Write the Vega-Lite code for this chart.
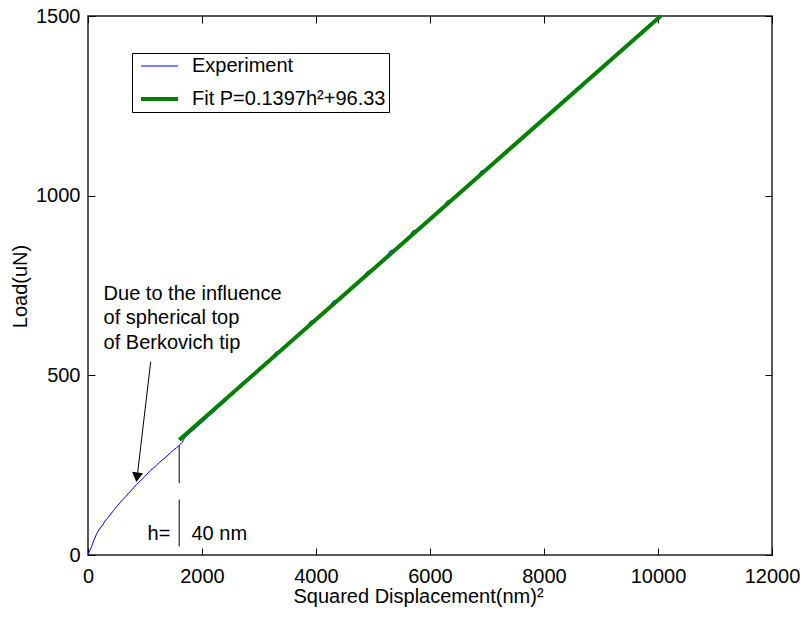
{
  "$schema": "https://vega.github.io/schema/vega-lite/v6.json",
  "width": 684,
  "height": 539,
  "autosize": {"type": "none"},
  "padding": {"left": 88, "top": 16, "right": 30, "bottom": 62},
  "background": "white",
  "config": {
    "font": "Liberation Sans",
    "view": {"stroke": "#222222", "strokeWidth": 1.5},
    "axis": {"grid": false, "domain": false, "tickColor": "#000000", "tickSize": -7, "tickWidth": 1, "labelFlush": false, "format": "d", "labelFontSize": 20, "labelColor": "#000000", "labelFont": "Liberation Sans", "titleFont": "Liberation Sans", "titleFontSize": 20, "titleFontWeight": "normal", "titleColor": "#000000"}
  },
  "datasets": {
    "curves": [
      {"series": "Experiment", "x": 0, "y": 0},
      {"series": "Experiment", "x": 30, "y": 12},
      {"series": "Experiment", "x": 60, "y": 22},
      {"series": "Experiment", "x": 100, "y": 40},
      {"series": "Experiment", "x": 150, "y": 58},
      {"series": "Experiment", "x": 200, "y": 72},
      {"series": "Experiment", "x": 260, "y": 84},
      {"series": "Experiment", "x": 300, "y": 95},
      {"series": "Experiment", "x": 350, "y": 104},
      {"series": "Experiment", "x": 400, "y": 114},
      {"series": "Experiment", "x": 450, "y": 124},
      {"series": "Experiment", "x": 500, "y": 134},
      {"series": "Experiment", "x": 560, "y": 145},
      {"series": "Experiment", "x": 600, "y": 153},
      {"series": "Experiment", "x": 650, "y": 160},
      {"series": "Experiment", "x": 700, "y": 170},
      {"series": "Experiment", "x": 750, "y": 178},
      {"series": "Experiment", "x": 800, "y": 187},
      {"series": "Experiment", "x": 850, "y": 196},
      {"series": "Experiment", "x": 900, "y": 204},
      {"series": "Experiment", "x": 950, "y": 211},
      {"series": "Experiment", "x": 1000, "y": 219},
      {"series": "Experiment", "x": 1050, "y": 228},
      {"series": "Experiment", "x": 1100, "y": 236},
      {"series": "Experiment", "x": 1150, "y": 242},
      {"series": "Experiment", "x": 1200, "y": 250},
      {"series": "Experiment", "x": 1250, "y": 257},
      {"series": "Experiment", "x": 1300, "y": 264},
      {"series": "Experiment", "x": 1350, "y": 270},
      {"series": "Experiment", "x": 1400, "y": 278},
      {"series": "Experiment", "x": 1450, "y": 285},
      {"series": "Experiment", "x": 1500, "y": 292},
      {"series": "Experiment", "x": 1550, "y": 298},
      {"series": "Experiment", "x": 1600, "y": 305},
      {"series": "Experiment", "x": 1650, "y": 313},
      {"series": "Experiment", "x": 1700, "y": 327},
      {"series": "Experiment", "x": 1800, "y": 341},
      {"series": "Experiment", "x": 1900, "y": 355},
      {"series": "Experiment", "x": 2000, "y": 369},
      {"series": "Experiment", "x": 2100, "y": 384},
      {"series": "Experiment", "x": 2200, "y": 397},
      {"series": "Experiment", "x": 2300, "y": 412},
      {"series": "Experiment", "x": 2400, "y": 426},
      {"series": "Experiment", "x": 2500, "y": 441},
      {"series": "Experiment", "x": 2600, "y": 455},
      {"series": "Experiment", "x": 2700, "y": 471},
      {"series": "Experiment", "x": 2800, "y": 484},
      {"series": "Experiment", "x": 2900, "y": 499},
      {"series": "Experiment", "x": 3000, "y": 513},
      {"series": "Experiment", "x": 3100, "y": 528},
      {"series": "Experiment", "x": 3200, "y": 541},
      {"series": "Experiment", "x": 3300, "y": 565},
      {"series": "Experiment", "x": 3400, "y": 570},
      {"series": "Experiment", "x": 3500, "y": 586},
      {"series": "Experiment", "x": 3600, "y": 598},
      {"series": "Experiment", "x": 3700, "y": 615},
      {"series": "Experiment", "x": 3800, "y": 626},
      {"series": "Experiment", "x": 3900, "y": 650},
      {"series": "Experiment", "x": 4000, "y": 657},
      {"series": "Experiment", "x": 4100, "y": 672},
      {"series": "Experiment", "x": 4200, "y": 682},
      {"series": "Experiment", "x": 4300, "y": 706},
      {"series": "Experiment", "x": 4400, "y": 712},
      {"series": "Experiment", "x": 4500, "y": 727},
      {"series": "Experiment", "x": 4600, "y": 738},
      {"series": "Experiment", "x": 4700, "y": 756},
      {"series": "Experiment", "x": 4800, "y": 767},
      {"series": "Experiment", "x": 4900, "y": 789},
      {"series": "Experiment", "x": 5000, "y": 795},
      {"series": "Experiment", "x": 5100, "y": 811},
      {"series": "Experiment", "x": 5200, "y": 822},
      {"series": "Experiment", "x": 5300, "y": 846},
      {"series": "Experiment", "x": 5400, "y": 851},
      {"series": "Experiment", "x": 5500, "y": 867},
      {"series": "Experiment", "x": 5600, "y": 878},
      {"series": "Experiment", "x": 5700, "y": 902},
      {"series": "Experiment", "x": 5800, "y": 906},
      {"series": "Experiment", "x": 5900, "y": 922},
      {"series": "Experiment", "x": 6000, "y": 934},
      {"series": "Experiment", "x": 6100, "y": 950},
      {"series": "Experiment", "x": 6200, "y": 962},
      {"series": "Experiment", "x": 6300, "y": 985},
      {"series": "Experiment", "x": 6400, "y": 990},
      {"series": "Experiment", "x": 6500, "y": 1006},
      {"series": "Experiment", "x": 6600, "y": 1018},
      {"series": "Experiment", "x": 6700, "y": 1034},
      {"series": "Experiment", "x": 6800, "y": 1046},
      {"series": "Experiment", "x": 6900, "y": 1069},
      {"series": "Experiment", "x": 7000, "y": 1073},
      {"series": "Experiment", "x": 7100, "y": 1090},
      {"series": "Experiment", "x": 7200, "y": 1101},
      {"series": "Experiment", "x": 7300, "y": 1118},
      {"series": "Experiment", "x": 7400, "y": 1129},
      {"series": "Experiment", "x": 7500, "y": 1146},
      {"series": "Experiment", "x": 7600, "y": 1157},
      {"series": "Experiment", "x": 7700, "y": 1173},
      {"series": "Experiment", "x": 7800, "y": 1185},
      {"series": "Experiment", "x": 7900, "y": 1201},
      {"series": "Experiment", "x": 8000, "y": 1213},
      {"series": "Experiment", "x": 8100, "y": 1229},
      {"series": "Experiment", "x": 8200, "y": 1241},
      {"series": "Experiment", "x": 8300, "y": 1256},
      {"series": "Experiment", "x": 8400, "y": 1269},
      {"series": "Experiment", "x": 8500, "y": 1285},
      {"series": "Experiment", "x": 8600, "y": 1296},
      {"series": "Experiment", "x": 8700, "y": 1313},
      {"series": "Experiment", "x": 8800, "y": 1324},
      {"series": "Experiment", "x": 8900, "y": 1340},
      {"series": "Experiment", "x": 9000, "y": 1352},
      {"series": "Experiment", "x": 9100, "y": 1369},
      {"series": "Experiment", "x": 9200, "y": 1379},
      {"series": "Experiment", "x": 9300, "y": 1396},
      {"series": "Experiment", "x": 9400, "y": 1407},
      {"series": "Experiment", "x": 9500, "y": 1424},
      {"series": "Experiment", "x": 9600, "y": 1435},
      {"series": "Experiment", "x": 9700, "y": 1452},
      {"series": "Experiment", "x": 9800, "y": 1462},
      {"series": "Experiment", "x": 9900, "y": 1478},
      {"series": "Experiment", "x": 9960, "y": 1482},
      {"series": "Fit P=0.1397h²+96.33", "x": 1600, "y": 319.9},
      {"series": "Fit P=0.1397h²+96.33", "x": 4000, "y": 655.1},
      {"series": "Fit P=0.1397h²+96.33", "x": 7000, "y": 1074.2},
      {"series": "Fit P=0.1397h²+96.33", "x": 10048, "y": 1500}
    ],
    "marker": [
      {"x": 1600, "y": 200, "y2": 305},
      {"x": 1600, "y": 24, "y2": 154}
    ],
    "arrow": [
      {"x": 1100, "y": 538, "x2": 871, "y2": 229}
    ],
    "head": [
      {"x": 859, "y": 216.5}
    ],
    "notesLeft": [
      {"x": 274, "y": 710, "label": "Due to the influence\nof spherical top\nof Berkovich tip"},
      {"x": 1815, "y": 43, "label": "40 nm"}
    ],
    "notesRight": [
      {"x": 1446, "y": 43, "label": "h="}
    ],
    "frame": [
      {"x": 0, "y": 0}
    ]
  },
  "resolve": {"axis": {"x": "independent", "y": "independent"}},
  "layer": [
    {
      "data": {"name": "curves"},
      "mark": {"type": "line", "interpolate": "linear"},
      "encoding": {
        "x": {"field": "x", "type": "quantitative", "scale": {"domain": [0, 12000], "nice": false},
              "axis": {"orient": "bottom", "values": [0, 2000, 4000, 6000, 8000, 10000, 12000], "labelPadding": 18, "title": "Squared Displacement(nm)²", "titleX": 330, "titleY": 47, "titleBaseline": "alphabetic", "titleAlign": "center"}},
        "y": {"field": "y", "type": "quantitative", "scale": {"domain": [0, 1500], "nice": false},
              "axis": {"orient": "left", "values": [0, 500, 1000, 1500], "labelPadding": 15, "title": "Load(uN)", "titleX": -62, "titleY": 270, "titleAngle": -90, "titleBaseline": "alphabetic", "titleAlign": "center"}},
        "color": {"field": "series", "type": "nominal",
                  "scale": {"domain": ["Experiment", "Fit P=0.1397h²+96.33"], "range": ["#0000ff", "#008000"]},
                  "legend": {"orient": "none", "legendX": 44, "legendY": 37, "title": null, "strokeColor": "#000000", "fillColor": "#ffffff", "padding": 3, "symbolOffset": 4, "symbolType": "stroke", "symbolSize": 1369, "clipHeight": 20, "labelOffset": 12, "rowPadding": 13, "labelFontSize": 20, "labelColor": "#000000", "labelFont": "Liberation Sans", "labelLimit": 400}},
        "strokeWidth": {"field": "series", "type": "nominal",
                  "scale": {"domain": ["Experiment", "Fit P=0.1397h²+96.33"], "range": [1, 4]},
                  "legend": {"orient": "none", "legendX": 44, "legendY": 37, "title": null, "strokeColor": "#000000", "fillColor": "#ffffff", "padding": 3, "symbolOffset": 4, "symbolType": "stroke", "symbolSize": 1369, "clipHeight": 20, "labelOffset": 12, "rowPadding": 13, "labelFontSize": 20, "labelColor": "#000000", "labelFont": "Liberation Sans", "labelLimit": 400}}
      }
    },
    {
      "data": {"name": "marker"},
      "mark": {"type": "rule", "color": "#000000", "strokeWidth": 1},
      "encoding": {
        "x": {"field": "x", "type": "quantitative", "axis": null},
        "y": {"field": "y", "type": "quantitative", "axis": null},
        "y2": {"field": "y2"}
      }
    },
    {
      "data": {"name": "arrow"},
      "mark": {"type": "rule", "color": "#000000", "strokeWidth": 1},
      "encoding": {
        "x": {"field": "x", "type": "quantitative", "axis": null},
        "y": {"field": "y", "type": "quantitative", "axis": null},
        "x2": {"field": "x2"},
        "y2": {"field": "y2"}
      }
    },
    {
      "data": {"name": "head"},
      "mark": {"type": "point", "shape": "triangle-down", "filled": true, "color": "#000000", "opacity": 1, "size": 120, "angle": 7},
      "encoding": {
        "x": {"field": "x", "type": "quantitative", "axis": null},
        "y": {"field": "y", "type": "quantitative", "axis": null}
      }
    },
    {
      "data": {"name": "notesLeft"},
      "mark": {"type": "text", "fontSize": 20, "font": "Liberation Sans", "color": "#000000", "align": "left", "baseline": "alphabetic", "lineBreak": "\n", "lineHeight": 24.5},
      "encoding": {
        "x": {"field": "x", "type": "quantitative", "axis": null},
        "y": {"field": "y", "type": "quantitative", "axis": null},
        "text": {"field": "label"}
      }
    },
    {
      "data": {"name": "notesRight"},
      "mark": {"type": "text", "fontSize": 20, "font": "Liberation Sans", "color": "#000000", "align": "right", "baseline": "alphabetic"},
      "encoding": {
        "x": {"field": "x", "type": "quantitative", "axis": null},
        "y": {"field": "y", "type": "quantitative", "axis": null},
        "text": {"field": "label"}
      }
    },
    {
      "data": {"name": "frame"},
      "mark": {"type": "point", "opacity": 0},
      "encoding": {
        "x": {"field": "x", "type": "quantitative", "axis": {"orient": "top", "values": [0, 2000, 4000, 6000, 8000, 10000, 12000], "labels": false, "title": null}},
        "y": {"field": "y", "type": "quantitative", "axis": {"orient": "right", "values": [0, 500, 1000, 1500], "labels": false, "title": null}}
      }
    }
  ]
}
